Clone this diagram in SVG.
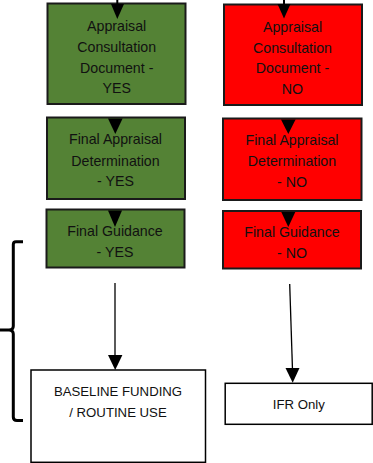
<svg xmlns="http://www.w3.org/2000/svg" width="373" height="463" viewBox="0 0 373 463">
<style>
.g{fill:#548235;stroke:#1a1a1a;stroke-width:2}
.r{fill:#ff0000;stroke:#1a1a1a;stroke-width:2}
.w{fill:#ffffff;stroke:#000;stroke-width:1.5}
text{font-family:"Liberation Sans",Arial,sans-serif;font-size:14.2px;fill:#111;text-anchor:middle}
.s{font-size:13.2px}
.ln{stroke:#000;stroke-width:1.3;fill:none}
.ah{fill:#000}
.br{fill:none;stroke:#000;stroke-width:3;stroke-linejoin:round}
</style>
<rect width="373" height="463" fill="#fff"/>
<g id="acd-yes"><rect class="g" x="47.5" y="3.5" width="138" height="100.5"/>
<text x="116.7" y="30.7">Appraisal</text><text x="116.7" y="51.7">Consultation</text><text x="116.7" y="72.7">Document -</text><text x="116.7" y="93.3">YES</text></g>
<g id="acd-no"><rect class="r" x="224" y="4.5" width="138" height="100.5"/>
<text x="292.5" y="31.7">Appraisal</text><text x="292.5" y="52.7">Consultation</text><text x="292.5" y="73.3">Document -</text><text x="292.5" y="94">NO</text></g>
<g id="fad-yes"><rect class="g" x="47" y="117.5" width="138" height="81.5"/>
<text x="115.5" y="144.3">Final Appraisal</text><text x="115.5" y="165.7">Determination</text><text x="115.5" y="186">- YES</text></g>
<g id="fad-no"><rect class="r" x="223" y="118.5" width="138.5" height="81.5"/>
<text x="292" y="144.8">Final Appraisal</text><text x="292" y="166">Determination</text><text x="292" y="186.7">- NO</text></g>
<g id="fg-yes"><rect class="g" x="46.5" y="209.5" width="138" height="58"/>
<text x="115" y="236">Final Guidance</text><text x="115" y="256.7">- YES</text></g>
<g id="fg-no"><rect class="r" x="223" y="211" width="138" height="57.5"/>
<text x="292" y="236.7">Final Guidance</text><text x="292" y="257.7">- NO</text></g>
<g id="baseline"><rect class="w" x="31" y="370" width="174.5" height="92.3"/>
<text class="s" x="118" y="396">BASELINE FUNDING</text><text class="s" x="118" y="416.7">/ ROUTINE USE</text></g>
<g id="ifr"><rect class="w" x="225.2" y="383.3" width="147" height="41"/>
<text class="s" x="298.8" y="409.3">IFR Only</text></g>
<g id="brace"><path class="br" d="M23 241.7 H16 Q13.3 241.7 13.3 244.5 V326 Q13.3 330 9 330 H0 M9 330 Q13.3 330 13.3 334 V417 Q13.3 420.5 17 420.5 H23"/></g>
<g id="connectors">
<line class="ln" x1="117.3" y1="0" x2="117.3" y2="6" style="stroke-width:2"/>
<polygon class="ah" points="111,4 124,4 117.3,19"/>
<line class="ln" x1="284" y1="0" x2="284" y2="6" style="stroke-width:2"/>
<polygon class="ah" points="277.5,4 290.5,4 284,18.5"/>
<polygon class="ah" points="108,118.5 122.6,118.5 115.3,134"/>
<polygon class="ah" points="281,119.5 295.6,119.5 288.3,134"/>
<polygon class="ah" points="108,210.5 122,210.5 115,227"/>
<polygon class="ah" points="281.3,212 295.3,212 288.3,227"/>
<line class="ln" x1="115" y1="283" x2="115" y2="357"/>
<polygon class="ah" points="108,355 122.4,355 115.2,370"/>
<line class="ln" x1="289.7" y1="284" x2="292.5" y2="370"/>
<polygon class="ah" points="285.5,368 299.5,368 292.7,382.7"/>
</g>
</svg>
